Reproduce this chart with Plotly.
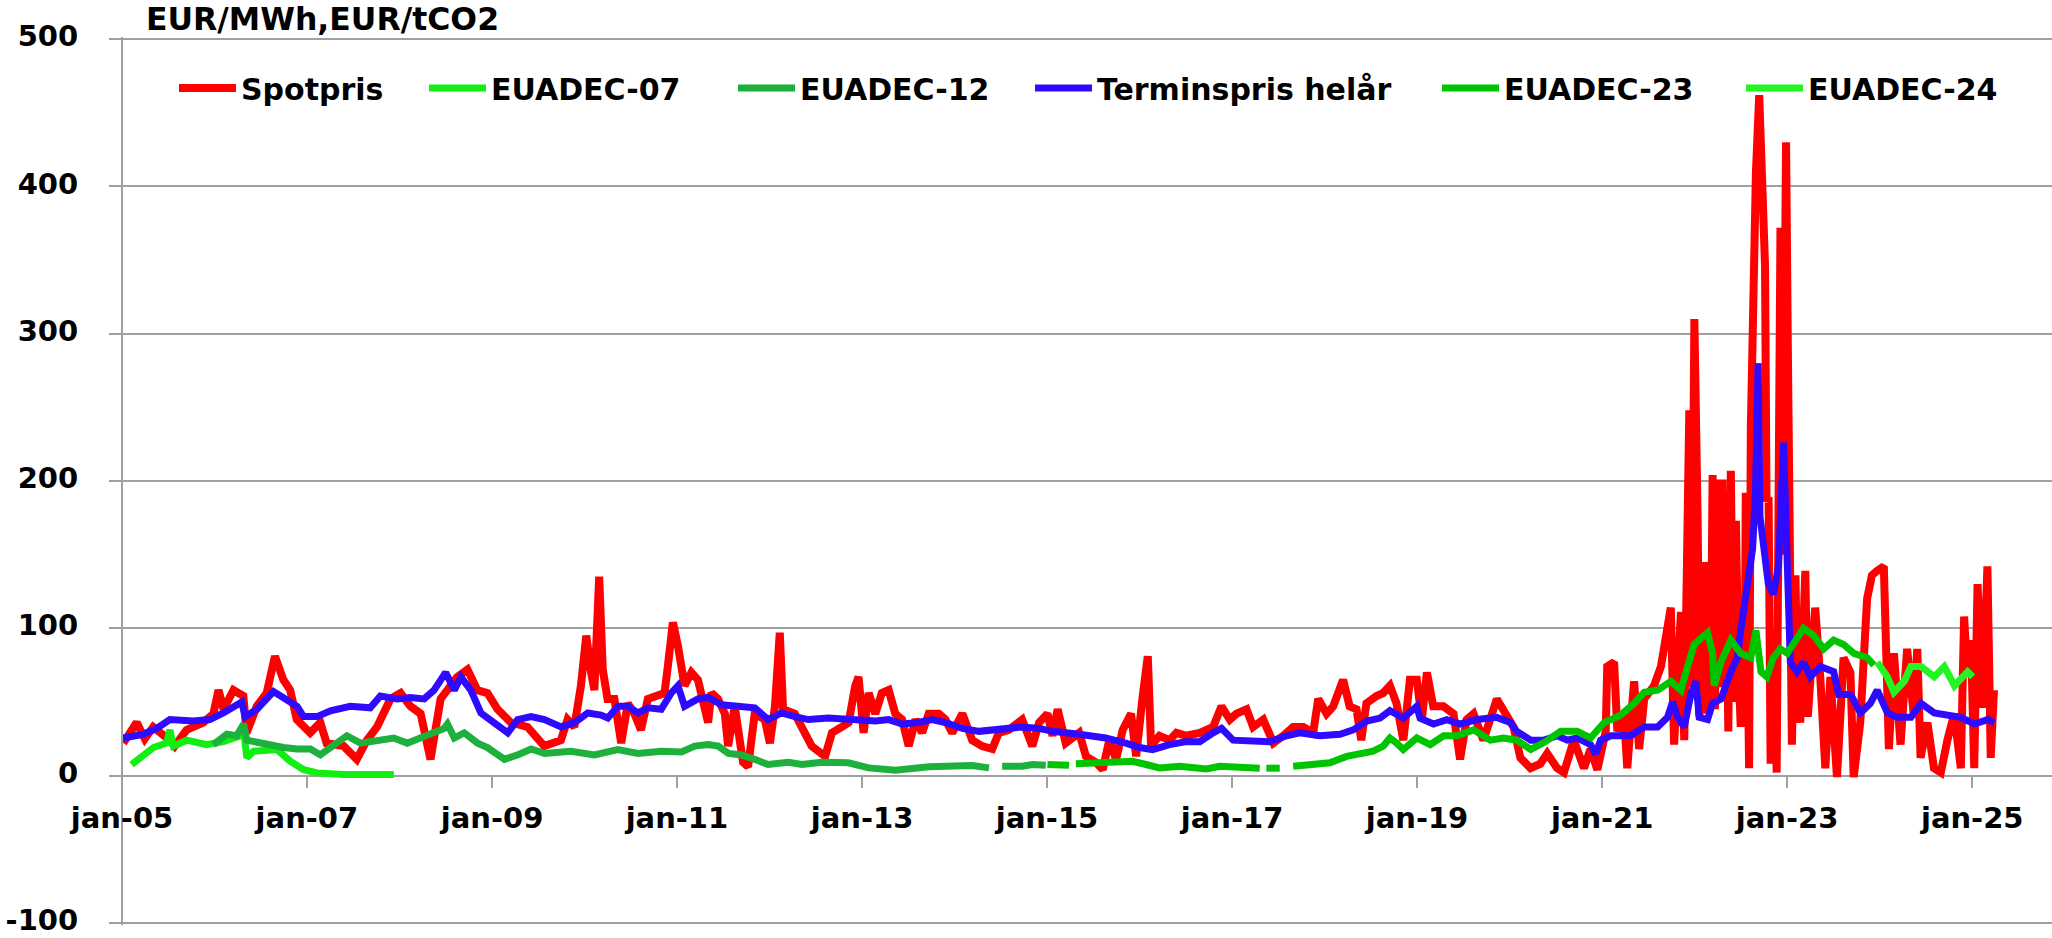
import plotly.graph_objects as go

# ---------------------------------------------------------------- data
spotpris = [
    ("2005-01-06", 22), ("2005-02-28", 36), ("2005-04-01", 25), ("2005-05-04", 33), ("2005-07-08", 24),
    ("2005-07-28", 20), ("2005-09-13", 31), ("2005-11-18", 36), ("2005-12-28", 42),
    ("2006-01-17", 58), ("2006-02-06", 45), ("2006-03-17", 58), ("2006-04-25", 54), ("2006-05-08", 29),
    ("2006-06-17", 47), ("2006-07-26", 56), ("2006-08-28", 81), ("2006-09-30", 65), ("2006-10-27", 58),
    ("2006-11-22", 38),
    ("2007-01-14", 29), ("2007-02-23", 36), ("2007-03-20", 22), ("2007-05-26", 20), ("2007-07-17", 11),
    ("2007-08-26", 24), ("2007-10-05", 33), ("2007-11-27", 52),
    ("2008-01-06", 56), ("2008-02-14", 47), ("2008-03-25", 42), ("2008-05-03", 11), ("2008-06-12", 52),
    ("2008-08-17", 67), ("2008-09-26", 72), ("2008-11-04", 58), ("2008-12-14", 56),
    ("2009-01-23", 45), ("2009-03-16", 36), ("2009-05-21", 33), ("2009-07-26", 20), ("2009-09-30", 24),
    ("2009-10-26", 38), ("2009-11-22", 33), ("2009-12-18", 61),
    ("2010-01-08", 95), ("2010-01-27", 70), ("2010-02-09", 58), ("2010-02-28", 135), ("2010-03-14", 72),
    ("2010-04-02", 52), ("2010-04-29", 52), ("2010-05-26", 22), ("2010-06-21", 49), ("2010-07-17", 42),
    ("2010-08-12", 31), ("2010-09-08", 52), ("2010-10-17", 54), ("2010-11-13", 56), ("2010-11-26", 74),
    ("2010-12-16", 104),
    ("2011-01-05", 88), ("2011-01-31", 61), ("2011-02-27", 70), ("2011-03-25", 65), ("2011-05-04", 36),
    ("2011-05-17", 56), ("2011-06-12", 52), ("2011-07-09", 42), ("2011-07-22", 20), ("2011-08-17", 47),
    ("2011-09-19", 9), ("2011-10-09", 6), ("2011-11-04", 42), ("2011-12-14", 38),
    ("2012-01-03", 22), ("2012-01-23", 47), ("2012-02-11", 97), ("2012-02-24", 45), ("2012-04-10", 42),
    ("2012-05-07", 33), ("2012-06-16", 20), ("2012-08-08", 13), ("2012-09-04", 29), ("2012-10-13", 33),
    ("2012-11-09", 36), ("2012-12-05", 61), ("2012-12-18", 67),
    ("2013-01-07", 29), ("2013-01-27", 56), ("2013-02-22", 42), ("2013-03-20", 56), ("2013-04-16", 58),
    ("2013-05-12", 42), ("2013-06-08", 38), ("2013-07-04", 20), ("2013-07-31", 38), ("2013-08-26", 29),
    ("2013-09-21", 42), ("2013-10-31", 42), ("2013-11-26", 38), ("2013-12-23", 29),
    ("2014-02-01", 42), ("2014-03-12", 24), ("2014-04-20", 20), ("2014-05-30", 18), ("2014-06-25", 29),
    ("2014-08-03", 31), ("2014-09-25", 38), ("2014-11-04", 20), ("2014-12-01", 36),
    ("2015-01-03", 42), ("2015-01-23", 27), ("2015-02-12", 45), ("2015-03-16", 22), ("2015-05-08", 29),
    ("2015-06-04", 13), ("2015-07-13", 9), ("2015-08-09", 4), ("2015-09-04", 24), ("2015-10-01", 11),
    ("2015-10-27", 31), ("2015-11-29", 42), ("2015-12-19", 13),
    ("2016-01-14", 54), ("2016-02-03", 81), ("2016-02-16", 20), ("2016-03-20", 27), ("2016-04-29", 24),
    ("2016-05-26", 29), ("2016-07-04", 27), ("2016-08-26", 29), ("2016-10-18", 33), ("2016-11-20", 47),
    ("2016-12-23", 38),
    ("2017-01-18", 42), ("2017-02-27", 45), ("2017-03-25", 33), ("2017-05-04", 38), ("2017-06-13", 22),
    ("2017-07-22", 27), ("2017-08-30", 33), ("2017-10-09", 33), ("2017-11-17", 29), ("2017-12-07", 52),
    ("2018-01-09", 42), ("2018-02-04", 47), ("2018-03-15", 65), ("2018-04-10", 47), ("2018-05-07", 45),
    ("2018-05-26", 24), ("2018-06-15", 49), ("2018-07-25", 54), ("2018-08-20", 56), ("2018-09-16", 61),
    ("2018-10-12", 49), ("2018-11-08", 24), ("2018-12-04", 65), ("2018-12-31", 65),
    ("2019-01-20", 38), ("2019-02-09", 70), ("2019-03-06", 47), ("2019-04-15", 47), ("2019-05-25", 42),
    ("2019-06-20", 11), ("2019-07-16", 38), ("2019-08-12", 42), ("2019-09-20", 24), ("2019-11-12", 52),
    ("2019-12-21", 40),
    ("2020-01-17", 33), ("2020-02-13", 12), ("2020-03-24", 5), ("2020-05-02", 8), ("2020-05-29", 15),
    ("2020-07-07", 5), ("2020-08-03", 2), ("2020-09-11", 24), ("2020-10-21", 5), ("2020-11-16", 18),
    ("2020-12-13", 4),
    ("2021-01-15", 30), ("2021-01-21", 74), ("2021-02-17", 77), ("2021-03-02", 30), ("2021-03-28", 42),
    ("2021-04-10", 5), ("2021-05-07", 64), ("2021-05-27", 18), ("2021-06-16", 52), ("2021-07-25", 61),
    ("2021-08-21", 74), ("2021-09-16", 98), ("2021-09-29", 114), ("2021-10-12", 21), ("2021-11-08", 111),
    ("2021-11-21", 24), ("2021-12-11", 248), ("2021-12-20", 60), ("2021-12-31", 310),
    ("2022-01-13", 173), ("2022-01-20", 40), ("2022-01-26", 130), ("2022-02-02", 55), ("2022-02-08", 145),
    ("2022-02-21", 42), ("2022-03-01", 120), ("2022-03-06", 65), ("2022-03-13", 204), ("2022-03-22", 45),
    ("2022-04-01", 201), ("2022-04-10", 60), ("2022-04-16", 150), ("2022-04-21", 201), ("2022-04-28", 70),
    ("2022-05-04", 161), ("2022-05-14", 30), ("2022-05-24", 207), ("2022-06-03", 50), ("2022-06-08", 120),
    ("2022-06-13", 173), ("2022-06-22", 80), ("2022-07-02", 33), ("2022-07-12", 90), ("2022-07-17", 40),
    ("2022-07-22", 192), ("2022-08-04", 5), ("2022-08-11", 237), ("2022-08-21", 329), ("2022-08-31", 409),
    ("2022-09-13", 462), ("2022-09-27", 385), ("2022-10-06", 346), ("2022-10-12", 186), ("2022-10-20", 189),
    ("2022-10-28", 8), ("2022-11-08", 98), ("2022-11-21", 2), ("2022-11-26", 229), ("2022-12-06", 372),
    ("2022-12-15", 150), ("2022-12-28", 430),
    ("2023-01-04", 291), ("2023-01-11", 183), ("2023-01-20", 21), ("2023-02-03", 136), ("2023-02-12", 50),
    ("2023-02-22", 36), ("2023-03-14", 139), ("2023-03-24", 40), ("2023-04-03", 67), ("2023-04-22", 114),
    ("2023-05-12", 67), ("2023-06-01", 5), ("2023-06-21", 67), ("2023-07-17", -1), ("2023-08-12", 80),
    ("2023-09-08", 70), ("2023-09-21", -1), ("2023-10-17", 36), ("2023-11-13", 120), ("2023-12-02", 136),
    ("2023-12-22", 139),
    ("2024-01-18", 142), ("2024-02-07", 18), ("2024-02-27", 83), ("2024-03-24", 21), ("2024-04-19", 86),
    ("2024-05-16", 40), ("2024-05-29", 86), ("2024-06-11", 12), ("2024-07-08", 36), ("2024-08-03", 5),
    ("2024-08-30", 2), ("2024-09-25", 24), ("2024-10-22", 42), ("2024-11-17", 5), ("2024-11-30", 108),
    ("2024-12-13", 67), ("2024-12-27", 92),
    ("2025-01-09", 5), ("2025-01-22", 130), ("2025-02-11", 46), ("2025-03-02", 142), ("2025-03-15", 12),
    ("2025-03-28", 58),
]

euadec_07 = [
    ("2005-02-08", 7.5), ("2005-03-25", 13), ("2005-05-05", 19), ("2005-06-26", 22), ("2005-07-09", 31),
    ("2005-07-23", 20), ("2005-09-14", 24), ("2005-12-01", 21), ("2006-02-05", 23), ("2006-04-13", 27),
    ("2006-04-26", 31), ("2006-05-09", 12), ("2006-06-05", 16.5), ("2006-09-05", 17.6), ("2006-10-27", 9.7),
    ("2006-12-19", 4), ("2007-02-10", 1.8), ("2007-05-26", 0.7), ("2007-12-10", 0.7),
]

euadec_12 = [
    ("2005-12-28", 21), ("2006-01-23", 24), ("2006-02-19", 28), ("2006-03-30", 27), ("2006-04-26", 35),
    ("2006-05-09", 24), ("2006-06-05", 23), ("2006-08-09", 21), ("2006-10-01", 19), ("2006-11-23", 18),
    ("2007-01-15", 18), ("2007-02-23", 14), ("2007-04-17", 20), ("2007-06-08", 27), ("2007-07-31", 22),
    ("2007-10-05", 24), ("2007-12-10", 25.5), ("2008-02-01", 22), ("2008-04-21", 28), ("2008-06-26", 32),
    ("2008-07-09", 35), ("2008-08-05", 25.5), ("2008-09-13", 29), ("2008-11-05", 22), ("2008-12-14", 19),
    ("2009-02-19", 11), ("2009-04-12", 14), ("2009-06-04", 18), ("2009-07-27", 15), ("2009-11-08", 16.5),
    ("2010-02-09", 14), ("2010-05-13", 17.6), ("2010-07-31", 15), ("2010-10-31", 16.5), ("2011-01-19", 16),
    ("2011-03-12", 20), ("2011-05-04", 21), ("2011-06-13", 20), ("2011-07-23", 15), ("2011-09-13", 14),
    ("2011-11-04", 11), ("2011-12-27", 7.5), ("2012-03-16", 9), ("2012-05-08", 7.5), ("2012-07-26", 9),
    ("2012-11-08", 8.6), ("2013-01-27", 5.2), ("2013-05-13", 3.6), ("2013-09-22", 6), ("2014-02-01", 6),
    ("2014-03-12", 6.8), ("2014-05-17", 5.2), ("2014-06-05", None), ("2014-07-08", 6.3), ("2014-09-26", 6.3),
    ("2014-11-05", 7.5), ("2014-12-27", 7),
]

terminspris_helar = [
    ("2005-01-06", 25.5), ("2005-03-25", 28), ("2005-05-18", 32), ("2005-07-09", 38), ("2005-10-10", 37),
    ("2005-12-14", 38), ("2006-02-05", 42.5), ("2006-03-30", 48), ("2006-04-19", 50), ("2006-05-02", 40),
    ("2006-06-18", 45), ("2006-08-22", 57), ("2006-10-14", 52), ("2006-11-23", 47), ("2006-12-19", 40),
    ("2007-02-10", 40), ("2007-04-04", 44), ("2007-06-21", 47), ("2007-09-08", 46), ("2007-10-18", 54),
    ("2007-12-23", 52), ("2008-02-14", 53), ("2008-04-08", 52), ("2008-05-17", 58), ("2008-07-02", 70),
    ("2008-08-05", 58), ("2008-08-31", 67), ("2008-10-09", 58), ("2008-11-18", 42.5), ("2009-01-10", 36),
    ("2009-03-04", 29), ("2009-04-12", 38), ("2009-06-04", 40), ("2009-07-27", 38), ("2009-10-01", 33),
    ("2009-11-23", 36), ("2010-01-14", 42.5), ("2010-03-07", 41), ("2010-04-03", 39), ("2010-05-13", 47),
    ("2010-06-21", 47), ("2010-07-31", 42.5), ("2010-09-09", 46), ("2010-10-31", 45), ("2010-12-09", 56),
    ("2011-01-05", 61), ("2011-01-31", 47), ("2011-03-25", 52), ("2011-05-04", 53), ("2011-06-26", 48),
    ("2011-09-13", 47), ("2011-11-04", 46), ("2011-12-27", 38), ("2012-02-18", 42.5), ("2012-04-11", 40),
    ("2012-06-03", 38), ("2012-08-21", 39), ("2012-11-08", 38), ("2013-01-01", 38), ("2013-02-23", 37),
    ("2013-04-16", 38), ("2013-06-08", 35), ("2013-08-12", 36), ("2013-10-04", 38), ("2013-11-26", 36),
    ("2014-02-01", 32), ("2014-04-08", 30), ("2014-06-12", 31), ("2014-09-26", 33), ("2014-12-01", 32),
    ("2015-01-23", 30), ("2015-05-08", 28), ("2015-08-21", 25.5), ("2015-11-08", 22), ("2016-01-01", 19),
    ("2016-02-22", 17.6), ("2016-04-29", 21), ("2016-07-04", 23), ("2016-08-26", 23), ("2016-10-18", 29),
    ("2016-11-20", 32), ("2017-01-05", 24), ("2017-03-25", 23), ("2017-05-29", 23), ("2017-08-04", 27),
    ("2017-09-25", 29), ("2017-12-13", 27), ("2018-03-03", 28), ("2018-04-24", 31), ("2018-06-17", 37),
    ("2018-08-08", 39), ("2018-09-16", 44), ("2018-11-08", 39), ("2018-12-31", 47), ("2019-01-13", 39),
    ("2019-03-07", 35), ("2019-04-29", 38), ("2019-06-20", 35), ("2019-08-25", 38), ("2019-11-12", 39.5),
    ("2020-01-04", 36), ("2020-01-30", 30), ("2020-03-25", 24), ("2020-05-16", 24), ("2020-07-08", 27),
    ("2020-08-16", 24), ("2020-09-24", 25.5), ("2020-11-16", 21), ("2020-12-06", 14.6), ("2020-12-26", 24),
    ("2021-02-04", 27), ("2021-04-23", 27), ("2021-06-16", 33), ("2021-08-08", 33), ("2021-09-16", 39.5),
    ("2021-10-06", 50), ("2021-10-26", 39.5), ("2021-11-21", 33), ("2021-12-17", 55), ("2022-01-06", 64),
    ("2022-01-19", 39.5), ("2022-02-21", 38), ("2022-03-13", 49), ("2022-04-15", 52), ("2022-05-24", 70.5),
    ("2022-06-19", 80), ("2022-07-02", 98.5), ("2022-07-28", 130), ("2022-08-18", 154), ("2022-08-29", 192),
    ("2022-09-09", 280), ("2022-09-16", 176), ("2022-09-29", 161), ("2022-10-19", 130), ("2022-11-08", 123),
    ("2022-11-28", 142), ("2022-12-18", 226), ("2023-01-01", 161), ("2023-01-14", 77), ("2023-02-09", 70.5),
    ("2023-03-07", 77), ("2023-04-03", 67), ("2023-05-12", 74), ("2023-07-04", 70.5), ("2023-07-24", 55),
    ("2023-09-09", 55), ("2023-10-18", 42.5), ("2023-11-26", 49), ("2023-12-23", 58), ("2024-02-01", 42.5),
    ("2024-03-11", 39.5), ("2024-05-04", 39.5), ("2024-06-13", 49), ("2024-08-04", 42.5), ("2024-09-26", 41),
    ("2024-11-17", 39.5), ("2025-01-09", 35), ("2025-03-03", 38), ("2025-03-29", 36),
]

euadec_23 = [
    ("2015-01-03", 7.5), ("2015-03-29", 7), ("2015-04-10", None), ("2015-04-25", 8), ("2015-09-17", 8.6),
    ("2015-12-05", 9.7), ("2016-01-27", 7.5), ("2016-03-20", 5.2), ("2016-06-08", 6.3), ("2016-07-30", 5.2),
    ("2016-09-21", 4.5), ("2016-11-13", 6.3), ("2017-02-26", 5.7), ("2017-04-20", 5), ("2017-04-28", None),
    ("2017-05-16", 5), ("2017-07-08", 5), ("2017-07-25", None), ("2017-08-30", 6.3), ("2017-11-17", 7.5),
    ("2018-01-22", 8.6), ("2018-03-29", 13), ("2018-05-20", 15), ("2018-07-12", 16.5), ("2018-08-21", 20),
    ("2018-09-16", 25.5), ("2018-10-13", 22), ("2018-11-08", 17.6), ("2018-12-31", 25.5), ("2019-02-22", 21),
    ("2019-04-16", 27), ("2019-06-08", 27), ("2019-08-12", 31), ("2019-10-17", 24), ("2019-12-09", 25.5),
    ("2020-01-30", 24), ("2020-03-25", 17.7), ("2020-05-16", 22.4), ("2020-07-21", 30), ("2020-09-24", 30),
    ("2020-11-16", 25.5), ("2021-01-09", 36), ("2021-03-14", 41), ("2021-05-07", 49), ("2021-06-16", 56.6),
    ("2021-08-08", 58), ("2021-09-29", 64), ("2021-11-08", 58), ("2021-12-04", 74), ("2021-12-30", 89),
    ("2022-02-21", 97), ("2022-03-13", 83), ("2022-03-19", 61), ("2022-04-15", 77), ("2022-05-24", 92),
    ("2022-07-02", 83), ("2022-08-11", 80), ("2022-08-31", 98.5), ("2022-09-20", 70.5), ("2022-10-13", 67),
    ("2022-11-08", 80), ("2022-12-05", 86), ("2023-01-02", 83), ("2023-01-27", 89), ("2023-03-07", 100),
    ("2023-04-16", 95), ("2023-05-26", 86), ("2023-07-04", 92), ("2023-08-12", 89), ("2023-09-22", 83),
    ("2023-11-13", 80), ("2023-12-10", 75),
]

euadec_24 = [
    ("2023-12-23", 77), ("2024-02-01", 67), ("2024-02-27", 56.6), ("2024-04-08", 64), ("2024-05-04", 74),
    ("2024-06-13", 74), ("2024-08-04", 67), ("2024-09-13", 74), ("2024-10-23", 61), ("2024-12-14", 70.5),
    ("2025-01-03", 67),
]

tick_dates = ["2005-01-01", "2007-01-01", "2009-01-01", "2011-01-01", "2013-01-01", "2015-01-01",
              "2017-01-01", "2019-01-01", "2021-01-01", "2023-01-01", "2025-01-01"]
tick_labels = ["jan-05", "jan-07", "jan-09", "jan-11", "jan-13", "jan-15",
               "jan-17", "jan-19", "jan-21", "jan-23", "jan-25"]
y_ticks = [-100, 0, 100, 200, 300, 400, 500]
y_labels = ["-100", "0", "100", "200", "300", "400", "500"]

# ---------------------------------------------------------------- styling
W, H = 2052, 938
M_L, M_R, M_T, M_B = 122, 0, 37, 13
PLOT_W = W - M_L - M_R
PLOT_H = H - M_T - M_B
Y_MIN, Y_MAX = -101.5, 501.5          # a little slack so the -100 / 500 grid lines are kept

FONT = "DejaVu Sans"
GRID = "#A0A0A0"


def paper_y(px_from_top):
    """Vertical pixel position (from the top of the figure) -> paper coordinate."""
    return (H - M_B - px_from_top) / PLOT_H


series = [
    ("Spotpris", spotpris, "#FF0000", 8, 179),
    ("EUADEC-07", euadec_07, "#11EE11", 7, 429),
    ("EUADEC-12", euadec_12, "#1DB03C", 7, 738),
    ("Terminspris helår", terminspris_helar, "#2E0AFF", 7, 1035),
    ("EUADEC-23", euadec_23, "#00C400", 7, 1442),
    ("EUADEC-24", euadec_24, "#22F522", 7, 1746),
]

fig = go.Figure()
legend_layout = {}
for i, (name, pts, color, lw, lx) in enumerate(series):
    key = "legend" if i == 0 else f"legend{i + 1}"
    fig.add_trace(go.Scatter(
        x=[d for d, _ in pts], y=[v for _, v in pts],
        mode="lines", name=name, legend=key,
        line=dict(color=color, width=lw),
        connectgaps=False, hoverinfo="skip",
    ))
    # one single-entry legend per series, laid out in a row above the data
    legend_layout[key] = dict(
        x=(lx - 5 - M_L) / PLOT_W, xanchor="left",
        y=paper_y(88), yanchor="middle",
        orientation="h", bgcolor="rgba(0,0,0,0)", borderwidth=0, itemwidth=57,
        font=dict(family=FONT, size=30, color="black", weight="bold"),
    )

fig.update_layout(
    width=W, height=H,
    margin=dict(l=M_L, r=M_R, t=M_T, b=M_B, pad=0, autoexpand=False),
    paper_bgcolor="white", plot_bgcolor="white",
    showlegend=True,
    **legend_layout,
    xaxis=dict(
        type="date",
        range=["2005-01-01", "2025-11-12"],
        tickvals=tick_dates, ticktext=tick_labels,
        showgrid=False, zeroline=False, showline=False, automargin=False,
        anchor="free", position=(0 - Y_MIN) / (Y_MAX - Y_MIN),
        ticks="outside", ticklen=11, tickwidth=2, tickcolor=GRID,
        ticklabelstandoff=6, ticklabeloverflow="allow",
        tickfont=dict(family=FONT, size=29, color="black", weight="bold"),
    ),
    yaxis=dict(
        range=[Y_MIN, Y_MAX], tickmode="array", tickvals=y_ticks, ticktext=y_labels,
        anchor="free", position=0, automargin=False,
        showgrid=True, gridcolor=GRID, gridwidth=2,
        zeroline=False, showline=True, linecolor=GRID, linewidth=2,
        ticks="outside", ticklen=12, tickwidth=2, tickcolor=GRID,
        ticklabelstandoff=25, ticklabelshift=-3, ticklabeloverflow="allow",
        tickfont=dict(family=FONT, size=29, color="black", weight="bold"),
    ),
    annotations=[dict(
        text="EUR/MWh,EUR/tCO2", xref="paper", yref="paper",
        x=(144 - M_L) / PLOT_W, y=paper_y(19),
        xanchor="left", yanchor="middle", showarrow=False,
        font=dict(family=FONT, size=31.5, color="black", weight="bold"),
    )],
)

fig.write_html("out.html")
